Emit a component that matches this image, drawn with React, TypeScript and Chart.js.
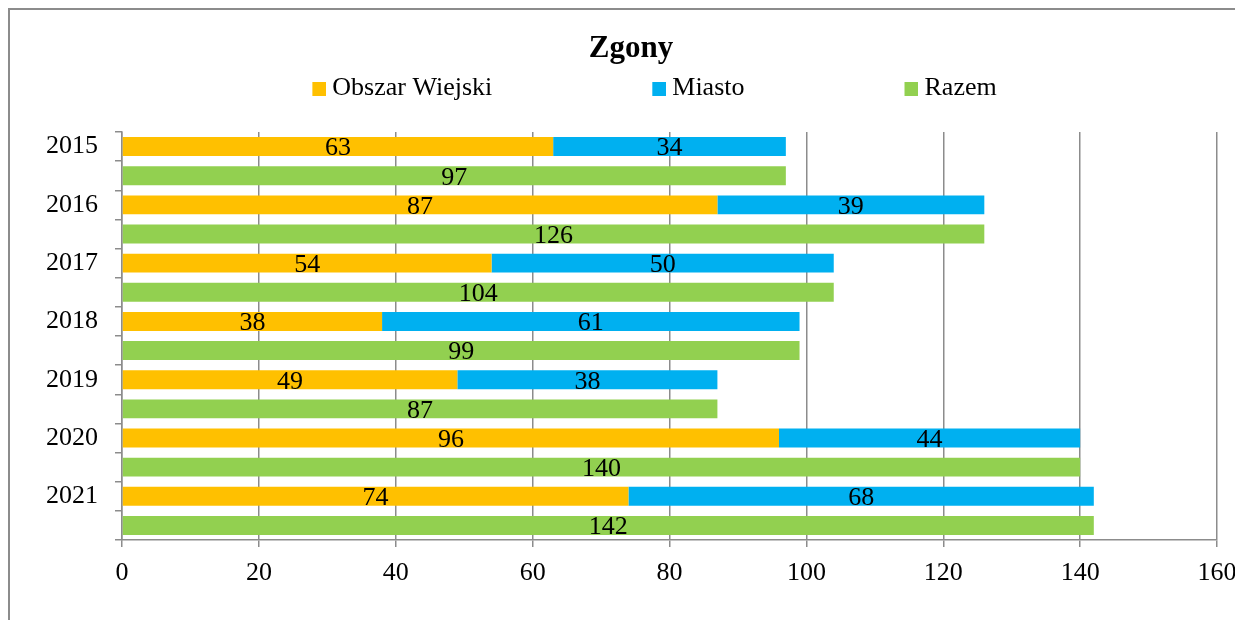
import React, { useEffect, useRef } from 'react';
import { Chart, registerables } from 'chart.js';

Chart.register(...registerables);

// ---- data ----
const years = ['2015', '2016', '2017', '2018', '2019', '2020', '2021'];
const obszarWiejski = [63, 87, 54, 38, 49, 96, 74];
const miasto = [34, 39, 50, 61, 38, 44, 68];
const razem = [97, 126, 104, 99, 87, 140, 142];
const xTicks = [0, 20, 40, 60, 80, 100, 120, 140, 160];

const seriesNames = ['Obszar Wiejski', 'Miasto', 'Razem'];
const seriesColors = ['#FFC000', '#00B0F0', '#92D050'];

const FONT = "'Liberation Serif', 'Times New Roman', serif";
const GRID = '#8c8c8c';
const BOX = 14;

// each year uses two rows: the stacked pair on top, the total below
const labels = years.flatMap((y) => [y, '']);
const topRow = (vals: number[]) => vals.flatMap((v) => [v, null]);
const bottomRow = (vals: number[]) => vals.flatMap((v) => [null, v]);

// legend swatch: square on the right half of a transparent image,
// so the gap between the swatch and its text is small (as in the original)
function makeSwatch(color: string) {
  const c = document.createElement('canvas');
  c.width = BOX * 2;
  c.height = BOX;
  const g = c.getContext('2d')!;
  g.fillStyle = color;
  g.fillRect(BOX, 0, BOX, BOX);
  return c;
}

const valueLabels = {
  id: 'valueLabels',
  afterDatasetsDraw(chart: any) {
    const ctx = chart.ctx;
    ctx.save();
    ctx.font = `26px ${FONT}`;
    ctx.fillStyle = '#000';
    ctx.textAlign = 'center';
    ctx.textBaseline = 'middle';
    chart.data.datasets.forEach((ds: any, di: number) => {
      const meta = chart.getDatasetMeta(di);
      if (meta.hidden) return;
      meta.data.forEach((el: any, i: number) => {
        const v = ds.data[i];
        if (v == null) return;
        const { x, y, base } = el.getProps(['x', 'y', 'base'], true);
        ctx.fillText(String(v), (x + base) / 2, y + 2);
      });
    });
    ctx.restore();
  },
};

const legendPlacement = {
  id: 'legendPlacement',
  afterLayout(chart: any) {
    const lg = chart.legend;
    if (!lg) return;
    const pad = lg.options.labels.padding;
    lg.left += 20;
    lg.right += 20;
    lg.top = 65.5 - pad;
  },
};

export default function App() {
  const canvasRef = useRef<HTMLCanvasElement | null>(null);

  useEffect(() => {
    if (!canvasRef.current) return;
    const swatches = seriesColors.map(makeSwatch);
    const baseGen = (Chart.defaults as any).plugins.legend.labels.generateLabels;
    const chart = new Chart(canvasRef.current, {
      type: 'bar',
      data: {
        labels,
        datasets: [
          {
            label: seriesNames[0],
            data: topRow(obszarWiejski),
            backgroundColor: seriesColors[0],
            borderWidth: 0,
            barPercentage: 0.65,
            categoryPercentage: 1,
          },
          {
            label: seriesNames[1],
            data: topRow(miasto),
            backgroundColor: seriesColors[1],
            borderWidth: 0,
            barPercentage: 0.65,
            categoryPercentage: 1,
          },
          {
            label: seriesNames[2],
            data: bottomRow(razem),
            backgroundColor: seriesColors[2],
            borderWidth: 0,
            barPercentage: 0.65,
            categoryPercentage: 1,
          },
        ],
      },
      options: {
        indexAxis: 'y',
        responsive: true,
        maintainAspectRatio: false,
        animation: false,
        layout: { padding: { left: 35, right: 26, top: 0, bottom: 30 } },
        scales: {
          x: {
            stacked: true,
            min: 0,
            max: 160,
            afterBuildTicks: (s: any) => {
              s.ticks = xTicks.map((v) => ({ value: v }));
            },
            grid: { color: GRID, lineWidth: 1.5, tickLength: 7, drawTicks: true },
            border: { display: true, color: GRID, width: 1.5 },
            ticks: {
              font: { family: FONT, size: 26 },
              color: '#000',
              padding: 11,
              maxRotation: 0,
            },
            afterFit: (s: any) => {
              s.height = 50;
              s.paddingLeft = 0;
              s.paddingRight = 0;
            },
          },
          y: {
            stacked: true,
            grid: {
              drawOnChartArea: false,
              drawTicks: true,
              tickLength: 7,
              color: GRID,
              lineWidth: 1.5,
              offset: true,
            },
            border: { display: true, color: GRID, width: 1.5 },
            ticks: {
              font: { family: FONT, size: 26 },
              color: '#000',
              padding: 17,
              autoSkip: false,
            },
            afterFit: (s: any) => {
              s.width = 77;
              s.paddingTop = 0;
              s.paddingBottom = 0;
            },
          },
        },
        plugins: {
          title: {
            display: true,
            text: 'Zgony',
            color: '#000',
            font: { family: FONT, size: 31, weight: 'bold' },
            padding: { top: 20, bottom: 0 },
          },
          legend: {
            display: true,
            position: 'top',
            maxHeight: 64.8,
            labels: {
              usePointStyle: true,
              pointStyleWidth: BOX,
              boxWidth: BOX,
              boxHeight: BOX,
              padding: 153,
              color: '#000',
              font: { family: FONT, size: 26 },
              generateLabels: (c: any) =>
                baseGen(c).map((it: any, i: number) => ({ ...it, pointStyle: swatches[i] })),
            },
          },
          tooltip: { enabled: false },
        },
      } as any,
      plugins: [valueLabels, legendPlacement],
    });
    return () => chart.destroy();
  }, []);

  return (
    <div
      style={{
        width: 1235,
        height: 612,
        boxSizing: 'border-box',
        borderTop: '2px solid #8c8c8c',
        borderLeft: '2px solid #8c8c8c',
        background: '#fff',
      }}
    >
      <div style={{ position: 'relative', width: 1233, height: 610 }}>
        <canvas ref={canvasRef} />
      </div>
    </div>
  );
}
